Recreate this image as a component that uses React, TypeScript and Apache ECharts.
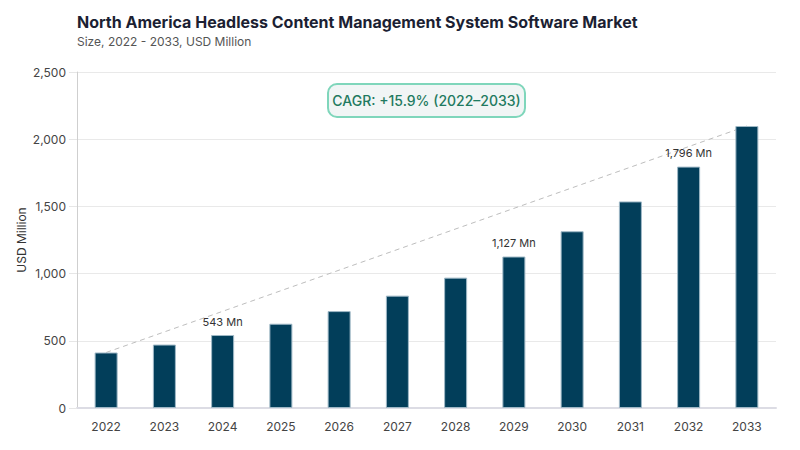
import { useEffect, useRef } from "react";
import * as echarts from "echarts";

const years = ["2022", "2023", "2024", "2025", "2026", "2027", "2028", "2029", "2030", "2031", "2032", "2033"];
const marketSize = [413, 472, 543, 627, 721, 836, 970, 1127, 1315, 1537, 1796, 2098];
const labeledYears = ["2024", "2029", "2032"];
const cagrText = "CAGR: +15.9% (2022–2033)";
const yAxisTitle = "USD Million";

const fmt = (v: number) => v.toLocaleString("en-US");

export default function App() {
  const chartRef = useRef<HTMLDivElement>(null);

  useEffect(() => {
    document.body.style.margin = "0";
    if (!chartRef.current) return;
    const chart = echarts.init(chartRef.current, undefined, { renderer: "svg" });

    // dashed trend from first to last bar top
    const trend = marketSize.map((v, i) => (i === 0 || i === marketSize.length - 1 ? v : null));

    chart.setOption({
      animation: false,
      textStyle: { fontFamily: "Inter" },
      title: {
        text: "North America Headless Content Management System Software Market",
        subtext: "Size, 2022 - 2033, USD Million",
        left: 72,
        top: 9,
        itemGap: 5,
        textStyle: { fontSize: 16, fontWeight: "bold", color: "#1c1f33", fontFamily: "Inter" },
        subtextStyle: { fontSize: 12, color: "#555", fontFamily: "Inter" }
      },
      grid: { left: 77, right: 24, top: 72, bottom: 42 },
      xAxis: {
        type: "category",
        data: years,
        axisLine: { lineStyle: { color: "#dcdce4", width: 2 } },
        axisTick: { show: false },
        axisLabel: { color: "#444", fontSize: 12, margin: 12 }
      },
      yAxis: {
        type: "value",
        min: 0,
        max: 2500,
        interval: 500,
        axisLine: { show: true, lineStyle: { color: "#cfcfcf" } },
        axisTick: { show: true, length: 8, lineStyle: { color: "#e6e6e6" } },
        axisLabel: { color: "#444", fontSize: 12, margin: 11, formatter: (v: number) => fmt(v) },
        splitLine: { lineStyle: { color: "#e9e9e9" } }
      },
      series: [
        {
          type: "bar",
          data: marketSize,
          barWidth: 23,
          itemStyle: { color: "#023e5a", borderColor: "#9fb8c6", borderWidth: 1 },
          label: {
            show: true,
            position: "top",
            distance: 8,
            color: "#333",
            fontSize: 11,
            formatter: (p: any) => (labeledYears.includes(p.name) ? fmt(p.value) + " Mn" : "")
          },
          z: 2
        },
        {
          type: "line",
          data: trend,
          connectNulls: true,
          symbol: "none",
          lineStyle: { color: "#bdbdbd", width: 1, type: [5, 4] },
          z: 1
        }
      ],
      graphic: [
        {
          type: "text",
          x: 21,
          y: 240,
          rotation: Math.PI / 2,
          style: {
            text: yAxisTitle,
            fill: "#333",
            font: "12px Inter",
            align: "center",
            verticalAlign: "middle"
          }
        },
        {
          type: "group",
          left: 327,
          top: 83,
          children: [
            {
              type: "rect",
              shape: { x: 0, y: 0, width: 197, height: 33, r: 9 },
              style: { fill: "#f1f5f5", stroke: "#7fd6bb", lineWidth: 2 }
            },
            {
              type: "text",
              x: 98.5,
              y: 16.5,
              style: {
                text: cagrText,
                fill: "#1f7a60",
                font: "500 14px Inter",
                align: "center",
                verticalAlign: "middle"
              }
            }
          ]
        }
      ]
    });

    return () => {
      chart.dispose();
    };
  }, []);

  return <div ref={chartRef} style={{ width: "800px", height: "450px" }} />;
}
